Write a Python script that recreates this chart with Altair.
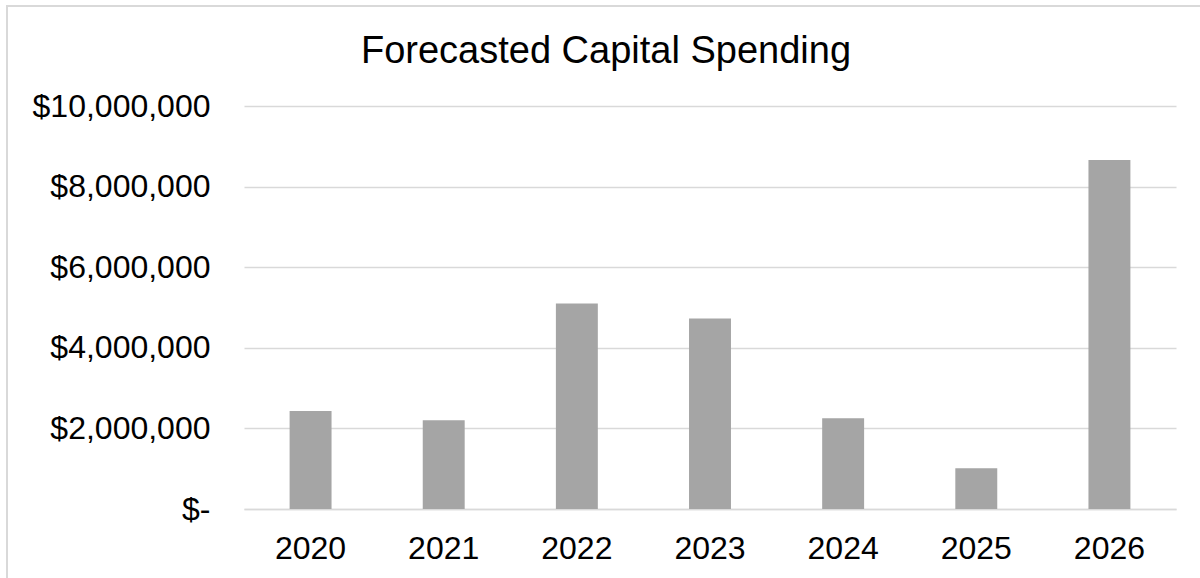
import altair as alt
import pandas as pd

years = ["2020", "2021", "2022", "2023", "2024", "2025", "2026"]
spending = [2430000, 2200000, 5100000, 4730000, 2250000, 1010000, 8660000]
y_ticks = [0, 2000000, 4000000, 6000000, 8000000, 10000000]
title_text = "Forecasted Capital Spending"

df = pd.DataFrame({"Year": years, "Spending": spending})

FONT = "Liberation Sans"
GRID = "#d9d9d9"

bars = alt.Chart(df).mark_bar(color="#a5a5a5").encode(
    x=alt.X(
        "Year:N",
        sort=years,
        scale=alt.Scale(paddingInner=0.685, paddingOuter=0.3425),
        axis=alt.Axis(
            title=None,
            labelAngle=0,
            labelFont=FONT,
            labelFontSize=32,
            labelColor="#000000",
            labelBaseline="alphabetic",
            labelPadding=49,
            ticks=False,
            tickSize=0,
            domain=True,
            domainColor=GRID,
            domainWidth=1.5,
            grid=False,
        ),
    ),
    y=alt.Y(
        "Spending:Q",
        scale=alt.Scale(domain=[0, 10000000], nice=False),
        axis=alt.Axis(
            title=None,
            values=y_ticks,
            labelExpr="datum.value == 0 ? '$-' : '$' + format(datum.value, ',.0f')",
            labelFont=FONT,
            labelFontSize=32,
            labelColor="#000000",
            labelPadding=34,
            ticks=False,
            tickSize=0,
            domain=False,
            grid=True,
            gridColor=GRID,
            gridWidth=1.4,
        ),
    ),
)

one = pd.DataFrame({"k": [0]})

border = alt.Chart(one).mark_rect(
    fill=None, stroke=GRID, strokeWidth=2
).encode(
    x=alt.value(-237),
    y=alt.value(-100),
    x2=alt.value(980),
    y2=alt.value(500),
)

title = alt.Chart(one).mark_text(
    text=title_text,
    font=FONT,
    fontSize=38,
    color="#000000",
    align="center",
    baseline="alphabetic",
).encode(
    x=alt.value(362),
    y=alt.value(-43),
)

chart = alt.layer(border, bars, title).properties(
    width=932,
    height=403,
    padding={"left": 244, "top": 106, "right": 24, "bottom": 69},
    autosize=alt.AutoSizeParams(type="none"),
).configure(background="white").configure_view(stroke=None)

chart.save("out.html", embed_options={"renderer": "svg", "actions": False})
